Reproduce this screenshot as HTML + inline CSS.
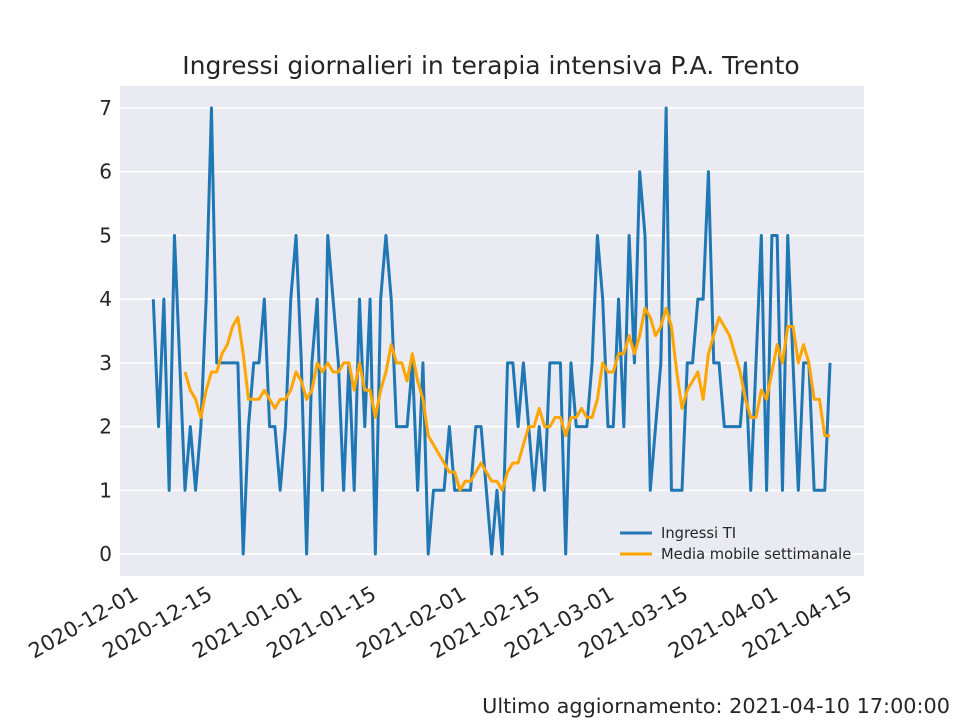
<!DOCTYPE html>
<html><head><meta charset="utf-8"><style>
body{margin:0;background:#fff;}
svg{display:block;font-family:"DejaVu Sans","Liberation Sans",sans-serif;}
</style></head><body>
<svg id="chart" width="960" height="720" viewBox="0 0 960 720">
<rect x="0" y="0" width="960" height="720" fill="#fff"/>
<text x="491" y="74" text-anchor="middle" font-size="25" fill="#262626">Ingressi giornalieri in terapia intensiva P.A. Trento</text>
<rect x="120" y="86" width="744" height="490" fill="#eaeaf2"/>
<g id="grid"></g>
<g id="yticks"></g>
<g id="xticks"></g>
<g id="series"></g>
<g>
<line x1="620" y1="533" x2="652" y2="533" stroke="#1f77b4" stroke-width="3"/>
<text x="661" y="538" font-size="14.7" fill="#262626">Ingressi TI</text>
<line x1="620" y1="554" x2="652" y2="554" stroke="#ffa500" stroke-width="3"/>
<text x="661" y="559" font-size="14.7" fill="#262626">Media mobile settimanale</text>
</g>
<text x="950" y="713" text-anchor="end" font-size="20.8" fill="#262626">Ultimo aggiornamento: 2021-04-10 17:00:00</text>
</svg>
<script>
const startDate = "2020-12-03";
const ingressi = [4,2,4,1,5,3,1,2,1,2,
4,7,3,3,3,3,3,0,2,3,
3,4,2,2,1,2,4,5,3,0,
3,4,1,5,4,3,1,3,1,4,
2,4,0,4,5,4,2,2,2,3,
1,3,0,1,1,1,2,1,1,1,
1,2,2,1,0,1,0,3,3,2,
3,2,1,2,1,3,3,3,0,3,
2,2,2,3,5,4,2,2,4,2,
5,3,6,5,1,2,3,7,1,1,
1,3,3,4,4,6,3,3,2,2,
2,2,3,1,3,5,1,5,5,1,
5,3,1,3,3,1,1,1,3];
const yTicks = [0,1,2,3,4,5,6,7];
const xTickLabels = ["2020-12-01","2020-12-15","2021-01-01","2021-01-15","2021-02-01","2021-02-15","2021-03-01","2021-03-15","2021-04-01","2021-04-15"];

const NS = "http://www.w3.org/2000/svg";
const DAY = 86400000;
const t0 = Date.parse(startDate + "T00:00:00Z");
function dayOf(s){ return (Date.parse(s + "T00:00:00Z") - t0) / DAY; }
function xScale(d){ return 153.3 + d * 5.287; }
function yScale(v){ return 554 - v * 63.71; }
function mk(tag, attrs){ const e = document.createElementNS(NS, tag); for (const k in attrs) e.setAttribute(k, attrs[k]); return e; }

const grid = document.getElementById('grid');
const yt = document.getElementById('yticks');
yTicks.forEach(v => {
  const l = mk('line', {x1:120, x2:864, y1:yScale(v), y2:yScale(v), stroke:'#fff', 'stroke-width':1.6});
  
  
  grid.appendChild(l);
  const t = mk('text', {x:112, y:yScale(v)+7, 'text-anchor':'end', 'font-size':20, fill:'#262626'});
  t.textContent = v;
  
  
  yt.appendChild(t);
});
const xt = document.getElementById('xticks');
xTickLabels.forEach(s => {
  const x = xScale(dayOf(s)) - 3;
  const t = mk('text', {x:x, y:598, 'text-anchor':'end', 'font-size':21, fill:'#262626', transform:'rotate(-30 '+x+' 598)'});
  t.textContent = s;
  
  
  xt.appendChild(t);
});

const media = ingressi.map((v, i) => {
  if (i < 6) return null;
  let s = 0; for (let k = i - 6; k <= i; k++) s += ingressi[k];
  return s / 7;
});

const series = document.getElementById('series');
const p1 = ingressi.map((v, i) => xScale(i).toFixed(2) + ',' + yScale(v).toFixed(2)).join(' ');
const l1 = mk('polyline', {points:p1, fill:'none', stroke:'#1f77b4', 'stroke-width':3, 'stroke-linejoin':'round'});


series.appendChild(l1);
const p2 = media.map((v, i) => v === null ? null : xScale(i).toFixed(2) + ',' + yScale(v).toFixed(2)).filter(p => p).join(' ');
const l2 = mk('polyline', {points:p2, fill:'none', stroke:'#ffa500', 'stroke-width':3, 'stroke-linejoin':'round'});


series.appendChild(l2);
</script>
</body></html>
